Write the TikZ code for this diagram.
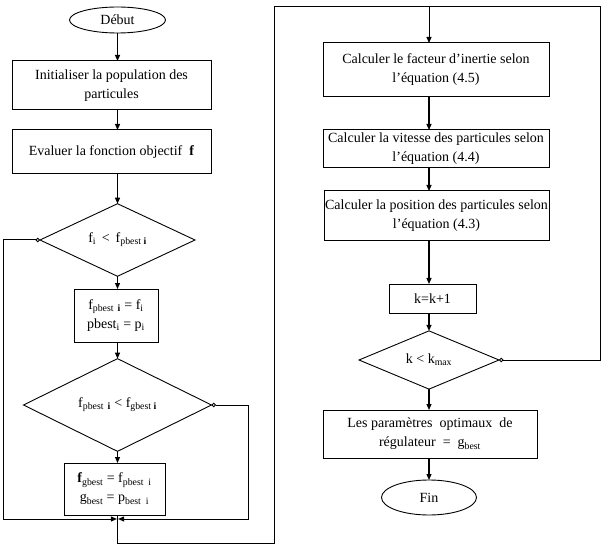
\documentclass[tikz,border=0pt]{standalone}
\usepackage{fontspec}
\setmainfont{Liberation Serif}
\usetikzlibrary{arrows.meta,shapes.geometric}
\newcommand\lo[1]{\textsubscript{#1}}
\begin{document}
\begin{tikzpicture}[x=1pt,y=-1pt,
 every node/.style={font=\fontsize{14}{19}\selectfont, inner sep=0pt, outer sep=0pt},
 box/.style={draw, rectangle, align=center, line width=1pt},
 cond/.style={draw, diamond, line width=0.9pt, align=center},
 term/.style={draw, ellipse, line width=0.9pt},
 arr/.style={-{Triangle[length=6pt,width=5pt]}, line width=1.2pt},
 loopline/.style={line width=1pt},
 noarr/.style={{Circle[open,length=4.5pt,width=4.5pt]}-{Triangle[length=6pt,width=5pt]}, line width=1pt},
 noline/.style={{Circle[open,length=4.5pt,width=4.5pt]}-, line width=1pt},
]
\useasboundingbox (0,0) rectangle (602,553);
% left column
\node[term, minimum width=96pt, minimum height=26pt] (debut) at (117.5,20) {Début};
\node[box, minimum width=199pt, minimum height=49pt] (init) at (111.5,85.5) {Initialiser la population des\\particules};
\node[box, minimum width=199pt, minimum height=44pt] (eval) at (111.5,152) {Evaluer la fonction objectif \ \textbf{f}};
\node[cond, minimum width=155pt, minimum height=68pt] (d1) at (117.5,240) {f\lo{i} \,<\, f\lo{pbest \textbf{i}}};
\node[box, minimum width=84pt, minimum height=53pt] (fp) at (116,315.5) {f\lo{pbest \,\textbf{i}} = f\lo{i}\\pbest\lo{i} = p\lo{i}};
\node[cond, minimum width=188pt, minimum height=62pt] (d2) at (117.5,405) {f\lo{pbest \,\textbf{i}} < f\lo{gbest \textbf{i}}};
\node[box, minimum width=101pt, minimum height=52pt] (fg) at (114.5,489) {\textbf{f}\lo{gbest} = f\lo{pbest \ i}\\g\lo{best} = p\lo{best \ i}};
\coordinate (j) at (117.5,519);
\coordinate (jb) at (117.5,543);
\coordinate (lc) at (3,519);
\coordinate (rc) at (248,519);
\coordinate (tl) at (274,7);
\coordinate (tm) at (429,7);
\coordinate (tr) at (600,7);
% right column
\node[box, minimum width=226pt, minimum height=54pt] (fact) at (436,70) {Calculer le facteur d’inertie selon\\l’équation (4.5)};
\node[box, minimum width=226pt, minimum height=38pt] (vit) at (436,149) {Calculer la vitesse des particules selon\\l’équation (4.4)};
\node[box, minimum width=225pt, minimum height=50pt] (pos) at (436.5,216) {Calculer la position des particules selon\\l’équation (4.3)};
\node[box, minimum width=87pt, minimum height=29pt] (kk) at (432.5,298.5) {k=k+1};
\node[cond, minimum width=140pt, minimum height=54pt] (d3) at (429,360) {k < k\lo{max}};
\node[box, minimum width=214pt, minimum height=48pt] (par) at (430,434) {Les paramètres \ optimaux \ de\\régulateur \ = \ g\lo{best}};
\node[term, minimum width=95pt, minimum height=35pt] (fin) at (429,497.5) {Fin};
% connectors left
\draw[arr] (debut.south) -- (debut.south |- init.north);
\draw[arr] (debut |- init.south) -- (debut |- eval.north);
\draw[arr] (debut |- eval.south) -- (d1.north);
\draw[arr] (d1.south) -- (d1.south |- fp.north);
\draw[arr] (d1 |- fp.south) -- (d2.north);
\draw[arr] (d2.south) -- (d2.south |- fg.north);
\draw[noarr] (d1.west) -| (lc) -- ([xshift=-0.6pt]j);
\draw[noarr] (d2.east) -| (rc) -- ([xshift=0.6pt]j);
\draw[arr, line width=1pt] (j |- fg.south) -- (jb) -| (tl) -- (tm) -- (tm |- fact.north);
% connectors right
\draw[arr] (tm |- fact.south) -- (tm |- vit.north);
\draw[arr] (tm |- vit.south) -- (tm |- pos.north);
\draw[arr] (tm |- pos.south) -- (tm |- kk.north);
\draw[arr] (tm |- kk.south) -- (d3.north);
\draw[noline] (d3.east) -| (tr) -- (tm);
\draw[arr] (d3.south) -- (d3.south |- par.north);
\draw[arr] (tm |- par.south) -- (fin.north);
\end{tikzpicture}
\end{document}
